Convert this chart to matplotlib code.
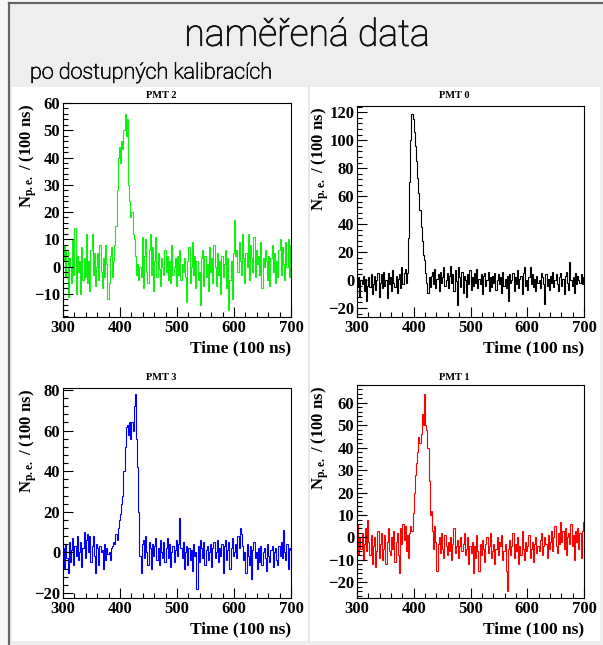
import numpy as np
import matplotlib.pyplot as plt
import matplotlib.patheffects as pe
from matplotlib.patches import Rectangle
from matplotlib.lines import Line2D
from matplotlib.ticker import MultipleLocator, AutoMinorLocator

plt.rcParams['font.family'] = ['Liberation Serif']
plt.rcParams['font.weight'] = 'bold'
plt.rcParams['mathtext.fontset'] = 'custom'
plt.rcParams['mathtext.rm'] = 'Liberation Serif:bold'
plt.rcParams['mathtext.it'] = 'Liberation Serif:bold'
plt.rcParams['mathtext.bf'] = 'Liberation Serif:bold'

W, H = 603, 645

# time bins (units of 100 ns), 2 units wide
t_edges = np.arange(300, 702, 2)

pmt2 = [2, 8, -4, 6, -11, 3, 0, -6, 10, -3,
        14, -10, 4, -2, 2, -10, 7, -5, 3, -4,
        12, -6, 2, -9, 6, 12, -3, 5, -7, 0,
        5, -5, 8, -2, -8, 3, -4, 8, 1, -12,
        -6, 4, 7, -4, 2, 8, 15, 28, 40, 44,
        38, 46, 43, 50, 56, 48, 54, 30, 24, 18,
        20, 12, 10, 4, -3, 1, -5, 0, -4, 11,
        -8, 4, 10, -2, -6, 6, 12, -3, 7, -9,
        2, 11, -4, 5, -1, -7, 3, 0, -3, 6,
        -2, 4, -5, 2, -6, 8, -3, 0, 3, -7,
        4, -3, 6, -5, 1, -2, 3, -4, -13, 2,
        7, -6, 0, 9, -3, 4, -8, 2, -5, -2,
        -14, 3, 6, -7, 4, -4, 1, -9, 7, -2,
        3, -6, 8, 0, -7, 5, -3, 2, -10, 4,
        -4, 1, 6, -8, 3, -16, -5, 2, -12, 5,
        17, 4, 6, -2, 9, 2, -3, 12, 3, -6,
        5, 0, 12, -5, 8, 3, -2, 11, -4, 6,
        1, 4, -3, 9, -8, 3, 0, 6, 2, -5,
        4, -7, 3, 8, -2, 5, -6, 2, -4, 6,
        10, -3, 7, 1, -5, 9, 0, 10, -4, 8]

pmt0 = [-5, 2, -12, 0, -3, 3, -8, 1, -15, -4,
        2, -5, 4, -10, -3, 3, -7, 0, 5, -12,
        -2, 4, -6, 6, -4, 0, -13, 5, -3, 2,
        -8, 7, -2, -5, 3, -9, 1, 4, -6, 9,
        -3, 5, 8, -2, 5, 30, 70, 100, 119, 115,
        106, 96, 85, 73, 62, 50, 38, 28, 18, 14,
        5, -2, -9, 2, -5, 3, 6, -3, 8, -6,
        1, 4, -8, 6, -2, 2, 9, -4, 0, 5,
        -6, 3, 10, -2, 4, -8, 7, -1, -18, 9,
        2, -5, 6, -9, 3, 0, -12, 4, -3, 7,
        -7, 2, -4, 5, -2, 8, -6, 1, -3, 4,
        -10, 3, 5, -4, 0, 6, -8, 2, -5, 3,
        -2, 5, -7, 0, 4, -3, 2, -9, 6, -4,
        1, -6, 3, -15, 4, -2, 0, 5, -8, 2,
        -3, 7, -6, 1, 3, -10, 5, 9, -4, 0,
        -7, 2, 9, -3, 4, -5, 1, -8, 3, -2,
        0, -6, 5, 2, -3, -17, 4, -4, 1, -7,
        3, -2, 6, -5, 0, 4, -3, -8, 2, 5,
        -4, 1, -10, 3, 6, -2, -7, 13, 0, -4,
        2, -9, 5, -3, 3, 0, -2, 4, -3, 2]

pmt3 = [2, -8, 4, -3, -10, 5, -5, 1, 7, -6,
        3, -2, 8, -4, 0, 5, -7, 2, 10, -3,
        6, 9, 0, 8, -5, 3, 8, -2, -10, 4,
        2, -6, 3, 0, 1, -8, 4, -4, 2, -1,
        0, -4, 2, 3, 5, 4, 9, 6, 12, 16,
        19, 24, 28, 40, 52, 62, 63, 58, 64, 56,
        64, 60, 72, 78, 56, 42, 20, -2, -10, 4,
        6, -3, 8, 0, -6, 5, 2, -8, 4, -2,
        3, 7, -4, 2, -6, 6, 0, -3, 5, -5,
        2, 7, -3, 4, -7, 0, 3, -5, 1, 6,
        -2, 4, 17, 2, -3, 5, -8, 0, 3, -6,
        2, -4, 1, -9, 4, -2, 0, -18, 3, -5,
        6, 2, -3, 5, -6, 1, 3, -4, 0, 4,
        -7, 2, 5, -3, 0, 6, -5, 2, -2, 4,
        -10, 3, 6, -4, 1, 5, -8, 2, 7, -2,
        0, 4, -3, 8, 2, 12, 9, 3, -4, 0,
        -10, 4, -2, -6, 3, -13, 1, 5, -3, 0,
        -8, 2, -5, 3, -6, 0, 2, -3, -9, 4,
        -2, -5, 1, 3, -7, 0, 2, -4, -6, 3,
        -2, 5, -3, 11, 0, -4, 4, -8, 2, 1]

pmt1 = [6, -8, 0, -5, 2, -10, -3, 4, -6, 8,
        -2, -8, 1, -12, -4, 0, -13, -6, 3, -9,
        -3, 2, -10, -5, 1, -12, -2, 4, -6, -8,
        0, -5, 3, -11, -2, 2, -8, -16, 4, -3,
        6, -1, 5, -6, 1, -9, 2, 5, 3, 11,
        20, 28, 33, 38, 45, 42, 46, 55, 50, 64,
        50, 48, 40, 25, 10, 12, 3, -5, 5, -2,
        -15, -3, 0, -7, 2, -5, -9, 1, -4, -8,
        -2, -6, 0, -10, -3, 4, -7, -4, -1, -9,
        -4, 0, -6, -3, 2, -8, -5, 0, -12, -4,
        -7, -2, -16, -4, -9, 1, -6, -15, -3, -8,
        -1, -5, -11, -3, 0, -7, -4, 2, -9, -6,
        -3, -12, -5, 0, -8, -2, -4, 1, -10, -6,
        -3, -15, -24, -5, -1, -8, -4, 2, -9, -3,
        -6, 0, -12, -4, -8, 3, -5, -10, -2, -6,
        -4, 1, -9, -5, -2, -11, -3, 0, -7, -4,
        -6, -1, 2, -8, -4, 0, -3, -9, 1, -5,
        -2, 3, -6, 0, 5, -4, -7, 2, -3, 7,
        -2, 3, -5, 4, -8, 0, 2, -3, 6, -4,
        1, -10, 3, -2, 4, -5, 2, -9, 3, 7]

titles = ['PMT 2', 'PMT 0', 'PMT 3', 'PMT 1']
series = [pmt2, pmt0, pmt3, pmt1]
colors = ['#11ee11', '#000000', '#0000ff', '#ff0000']
ylims = [(-18.5, 60), (-26.5, 124.5), (-22.5, 81), (-27, 68)]
ymajor = [10, 20, 20, 10]

# pad geometry in pixels: axes left, right, top, bottom
boxes = [(63, 291, 103, 317), (357, 584, 106, 317),
         (63, 291, 388, 598), (357, 584, 385, 598)]
pad_centers = [161, 454, 161, 454]
title_y = [95, 95, 378, 378]
ylab_x = [28, 320, 28, 320]


def fx(x):
    return x / W


def fy(y):
    return 1 - y / H


fig = plt.figure(figsize=(W / 100, H / 100), dpi=100)
fig.patch.set_facecolor('#f6f6f6')

# slide background, frame and white canvas (kept below the axes)
fig.patches.append(Rectangle((fx(9), 0), 1, fy(3), transform=fig.transFigure,
                             facecolor='#eeeeee', edgecolor='none', zorder=-3))
fig.patches.append(Rectangle((fx(12), fy(641)), fx(600 - 12), (641 - 87) / H,
                             transform=fig.transFigure, facecolor='white',
                             edgecolor='none', zorder=-2))
fig.add_artist(Line2D([fx(9), fx(9)], [0, fy(3)], color='#666666', lw=1.6, zorder=-1))
fig.add_artist(Line2D([fx(9), 1], [fy(3), fy(3)], color='#666666', lw=1.6, zorder=-1))
fig.add_artist(Line2D([fx(309), fx(309)], [fy(641), fy(87)], color='#e4e4e4',
                      lw=1.2, zorder=-1))

# slightly thickened light sans for the slide headings
thicken = [pe.withStroke(linewidth=0.6, foreground='#111111')]
fig.text(fx(307), fy(35), 'naměřená data', family='Roboto', weight='light',
         fontsize=27, ha='center', va='center', color='#111111', path_effects=thicken)
fig.text(fx(30), fy(73), 'po dostupných kalibracích', family='Roboto', weight='light',
         fontsize=15.5, ha='left', va='center', color='#111111', path_effects=thicken)

for i in range(4):
    l, r, t, b = boxes[i]
    ax = fig.add_axes([fx(l), fy(b), (r - l) / W, (b - t) / H])
    ax.set_facecolor('white')
    ax.stairs(series[i], t_edges, baseline=None, color=colors[i], lw=0.8)
    ax.set_xlim(300, 700)
    ax.set_ylim(*ylims[i])
    ax.xaxis.set_major_locator(MultipleLocator(100))
    ax.xaxis.set_minor_locator(AutoMinorLocator(5))
    ax.yaxis.set_major_locator(MultipleLocator(ymajor[i]))
    ax.yaxis.set_minor_locator(AutoMinorLocator(5))
    ax.tick_params(which='both', direction='in', top=False, right=False,
                   labelsize=12, pad=2, width=0.8)
    ax.tick_params(which='major', length=7)
    ax.tick_params(which='minor', length=3.5)
    for sp in ax.spines.values():
        sp.set_linewidth(0.8)

    fig.text(fx(pad_centers[i]), fy(title_y[i]), titles[i], fontsize=7.5,
             ha='center', va='center')
    fig.text(fx(ylab_x[i]), fy(t + 1), r'N$_{\mathrm{p{.}e{.}}}$ / (100 ns)',
             rotation=90, fontsize=12, ha='center', va='top')
    fig.text(fx(r), fy(b + 31), 'Time (100 ns)', fontsize=12.5,
             ha='right', va='center')

fig.savefig('out.png', dpi=100)
